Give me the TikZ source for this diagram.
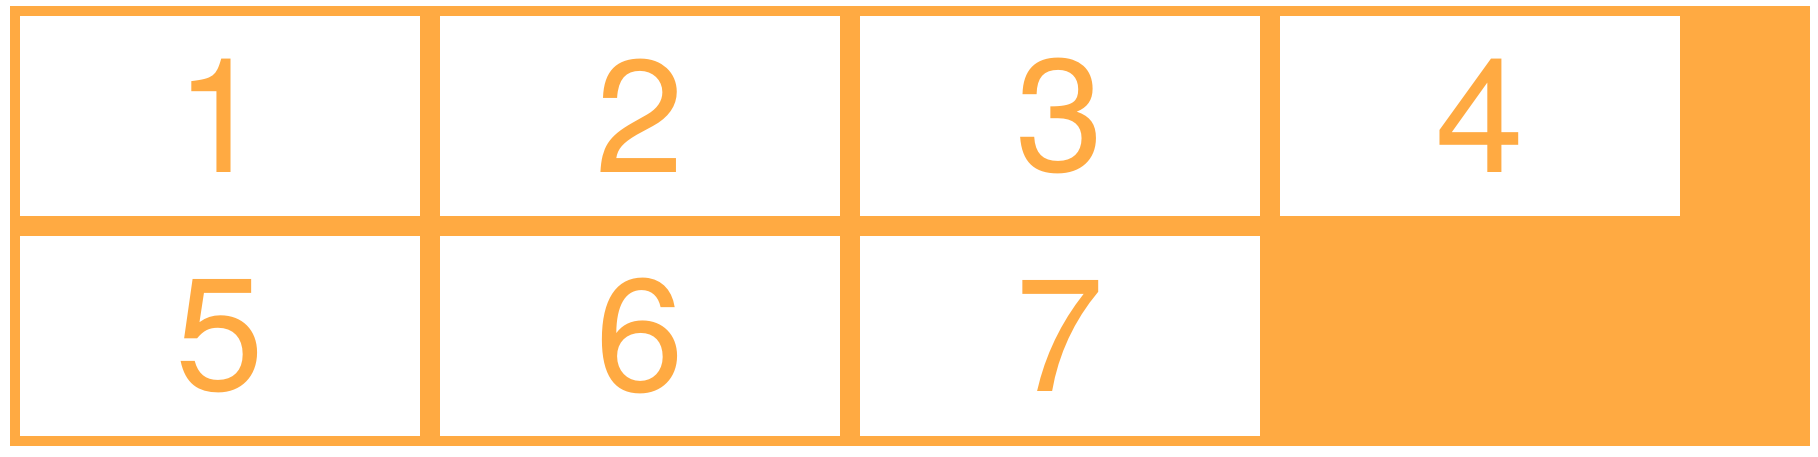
\documentclass[tikz,border=0pt]{standalone}
\usepackage{fontspec}
\setmainfont{TeX Gyre Heros}
\definecolor{gridorange}{RGB}{255,170,66}
\begin{document}
\begin{tikzpicture}[x=1pt,y=1pt,
  cellbox/.style={fill=white,draw=none,inner sep=0pt,minimum width=400pt,minimum height=200pt,
    text=gridorange,font=\fontsize{160}{160}\selectfont}]
\useasboundingbox (0,0) rectangle (1818,456);
\fill[gridorange] (10,10) rectangle (1810,450);
\node[cellbox] (c1) at (220,340) {1};
\node[cellbox] (c2) at (640,340) {2};
\node[cellbox] (c3) at (1060,340) {3};
\node[cellbox] (c4) at (1480,340) {4};
\node[cellbox] (c5) at (220,120) {5};
\node[cellbox] (c6) at (640,120) {6};
\node[cellbox] (c7) at (1060,120) {7};
\end{tikzpicture}
\end{document}
